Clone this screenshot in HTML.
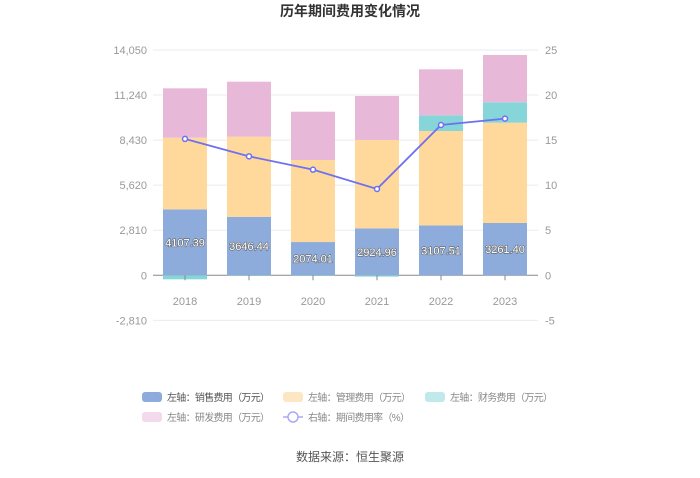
<!DOCTYPE html>
<html><head><meta charset="utf-8"><style>
body{margin:0;background:#fff;font-family:"Liberation Sans","Noto Sans CJK SC",sans-serif;}
svg text{font-family:"Liberation Sans","Noto Sans CJK SC",sans-serif;}
</style></head><body>
<svg id="c" width="700" height="473" xmlns="http://www.w3.org/2000/svg">
<text x="350" y="16" text-anchor="middle" font-size="14" font-weight="bold" fill="#333">历年期间费用变化情况</text>
<g id="grid"></g><g id="bars"></g><g id="line"></g><g id="axes"></g>
<g>
<rect x="142" y="392" width="20" height="10" rx="3" fill="#8eacdb"/>
<text x="167" y="401" font-size="10" textLength="103" fill="#555">左轴：销售费用（万元）</text>
<rect x="283" y="392" width="20" height="10" rx="3" fill="#fde6c2"/>
<text x="308" y="401" font-size="10" textLength="103" fill="#888">左轴：管理费用（万元）</text>
<rect x="425" y="392" width="20" height="10" rx="3" fill="#bfe9ea"/>
<text x="450" y="401" font-size="10" textLength="103" fill="#888">左轴：财务费用（万元）</text>
<rect x="142" y="412" width="20" height="10" rx="3" fill="#f3d9ec"/>
<text x="167" y="421" font-size="10" textLength="103" fill="#888">左轴：研发费用（万元）</text>
<line x1="283" y1="417" x2="303" y2="417" stroke="#aaaaf5" stroke-width="1.5"/>
<circle cx="293" cy="417" r="5" fill="#fff" stroke="#aaaaf5" stroke-width="1.5"/>
<text x="308" y="421" font-size="10" textLength="102" fill="#888">右轴：期间费用率（%）</text>
</g>
<text x="350" y="461" text-anchor="middle" font-size="12" fill="#555">数据来源：恒生聚源</text>
</svg>
<script>
const categories=["2018","2019","2020","2021","2022","2023"];
const sales=[4107.39,3646.44,2074.01,2924.96,3107.51,3261.40];
const mgmt=[4470,4995,5115,5510,5890,6255];
const finance=[-250,-30,-30,-80,975,1270];
const rd=[3080,3430,3010,2745,2870,2950];
const rate=[15.13,13.2,11.72,9.58,16.68,17.38];
const leftTicks=[-2810,0,2810,5620,8430,11240,14050];
const rightTicks=[-5,0,5,10,15,20,25];
const NS="http://www.w3.org/2000/svg";
const y0=275.3, pxL=45.07/2810, pxR=45.07/5, left=153, step=64, bw=44;
const yL=v=>y0-v*pxL, yR=v=>y0-v*pxR, xc=i=>left+step/2+i*step;
function mk(p,t,a){const e=document.createElementNS(NS,t);for(const k in a)e.setAttribute(k,a[k]);document.getElementById(p).appendChild(e);return e;}
leftTicks.forEach((t,i)=>{
 const g=mk('grid','line',{x1:left,x2:538,y1:yL(t),y2:yL(t),stroke:t===0?'#888':'#e8ebf3','stroke-width':1});
 
 
 const l=mk('axes','text',{x:147,y:yL(t)+4,'text-anchor':'end','font-size':11,fill:'#999'});
 l.textContent=t.toLocaleString('en-US');
 
 
});
rightTicks.forEach(t=>{
 const l=mk('axes','text',{x:545,y:yR(t)+4,'font-size':11,fill:'#999'});
 l.textContent=t;
 
 
});
categories.forEach((c,i)=>{
 const x=xc(i);
 const tk=mk('axes','line',{x1:x,x2:x,y1:y0,y2:y0+5,stroke:'#888'});
 
 
 const l=mk('axes','text',{x:x,y:305,'text-anchor':'middle','font-size':11,fill:'#999'});
 l.textContent=c;
 
 
 let pos=0,neg=0;
 const segs=[[sales[i],'#8eacdb','bar-sales'],[mgmt[i],'#fed99b','bar-mgmt'],[finance[i],'#86d5d8','bar-finance'],[rd[i],'#e8b8d9','bar-rd']];
 segs.forEach(s=>{
  const v=s[0];let a,b;
  if(v>=0){a=pos;b=pos+v;pos=b;}else{a=neg;b=neg+v;neg=b;}
  const top=Math.min(yL(a),yL(b)),h=Math.abs(yL(a)-yL(b));
  const r=mk('bars','rect',{x:x-bw/2,y:top,width:bw,height:Math.max(h,0),fill:s[1]});
  
  
 });
 const t=mk('bars','text',{x:x,y:(yL(0)+yL(sales[i]))/2+4,'text-anchor':'middle','font-size':11,fill:'#fff',stroke:'#666','stroke-width':1.2,'paint-order':'stroke'});
 t.textContent=sales[i].toFixed(2);
 
 
});
const pl=mk('line','polyline',{points:rate.map((v,i)=>xc(i)+','+yR(v)).join(' '),fill:'none',stroke:'#7070f0','stroke-width':1.8});


rate.forEach((v,i)=>{
 const c=mk('line','circle',{cx:xc(i),cy:yR(v),r:2.5,fill:'#fff',stroke:'#7070f0','stroke-width':1.5});
 
 
});
</script>
</body></html>
